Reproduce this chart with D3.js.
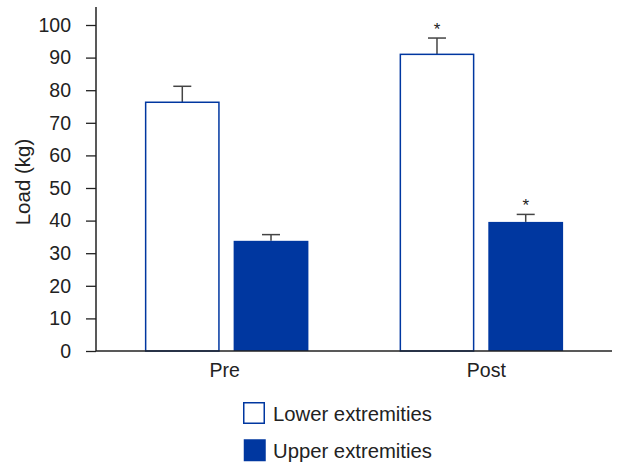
<!DOCTYPE html>
<html><head><meta charset="utf-8">
<script src="https://cdn.jsdelivr.net/npm/d3@7"></script>
<style>body{margin:0;background:#fff;} text{font-family:"Liberation Sans",Arial,sans-serif;fill:#222;}</style>
</head><body><svg id="c" width="617" height="463"></svg>
<script>
const categories = ["Pre", "Post"];
const seriesNames = ["Lower extremities", "Upper extremities"];
const lowerValues = [76.3, 91.0];
const lowerErrors = [4.9, 5.0];
const upperValues = [33.8, 39.6];
const upperErrors = [1.9, 2.3];
const lowerStars = [false, true];
const upperStars = [false, true];
const yTicks = [0,10,20,30,40,50,60,70,80,90,100];

const blue = "#0037a0";
const svg = d3.select("#c");
const y = d3.scaleLinear().domain([0,100]).range([351,25]);
const x0 = d3.scaleBand().domain(categories).range([96,612]).paddingInner(0.358).paddingOuter(0.192);
const x1 = d3.scaleBand().domain(seriesNames).range([0, x0.bandwidth()]).paddingInner(0.157);

const data = categories.map((c,i)=>({cat:c, vals:[
  {s:seriesNames[0], v:lowerValues[i], e:lowerErrors[i], star:lowerStars[i]},
  {s:seriesNames[1], v:upperValues[i], e:upperErrors[i], star:upperStars[i]}]}));

const g = svg.selectAll("g.grp").data(data).enter().append("g")
  .attr("transform", d=>`translate(${x0(d.cat)},0)`);
const bars = g.selectAll("g.b").data(d=>d.vals).enter().append("g");
// error bars
bars.append("line").attr("x1",d=>x1(d.s)+x1.bandwidth()/2).attr("x2",d=>x1(d.s)+x1.bandwidth()/2)
  .attr("y1",d=>y(d.v)).attr("y2",d=>y(d.v+d.e)).attr("stroke","#444").attr("stroke-width",1.5);
bars.append("line").attr("x1",d=>x1(d.s)+x1.bandwidth()/2-9).attr("x2",d=>x1(d.s)+x1.bandwidth()/2+9)
  .attr("y1",d=>y(d.v+d.e)).attr("y2",d=>y(d.v+d.e)).attr("stroke","#444").attr("stroke-width",1.5);
bars.append("rect").attr("x",(d,i)=>x1(d.s)+(i===0?0.75:0)).attr("y",d=>y(d.v))
  .attr("width",(d,i)=>x1.bandwidth()-(i===0?1.5:0)).attr("height",d=>y(0)-y(d.v))
  .attr("fill",(d,i)=>i===0?"#fff":blue).attr("stroke",(d,i)=>i===0?blue:"none").attr("stroke-width",1.5);
bars.filter(d=>d.star).append("text").attr("x",d=>x1(d.s)+x1.bandwidth()/2).attr("y",d=>y(d.v+d.e)-3)
  .attr("text-anchor","middle").attr("font-size",17).text("*");

// y axis
const yAxis = d3.axisLeft(y).tickValues(yTicks).tickSize(10).tickPadding(15);
const ya = svg.append("g").attr("transform","translate(96,0)").call(yAxis);
ya.select(".domain").remove();
ya.selectAll(".tick line").attr("stroke","#222").attr("stroke-width",1.3);
ya.selectAll(".tick text").attr("font-size",19.5).attr("fill","#222");
svg.append("line").attr("x1",96).attr("x2",96).attr("y1",7).attr("y2",y(0)).attr("stroke","#222").attr("stroke-width",1.5);
// x axis
const xAxis = d3.axisBottom(x0).tickSize(0).tickPadding(12);
const xa = svg.append("g").attr("transform",`translate(0,${y(0)})`).call(xAxis);
xa.select(".domain").remove();
xa.selectAll(".tick text").attr("font-size",19.5).attr("fill","#222");
xa.selectAll(".tick text").attr("dx",(d,i)=>i===1?"5":"-2");
svg.append("line").attr("x1",96).attr("x2",612).attr("y1",y(0)).attr("y2",y(0)).attr("stroke","#222").attr("stroke-width",1.5);

svg.append("text").attr("transform","translate(30,182) rotate(-90)").attr("text-anchor","middle")
  .attr("font-size",20.5).text("Load (kg)");

// legend
const leg = svg.append("g");
seriesNames.forEach((s,i)=>{
  const yy = 402 + i*36.5;
  leg.append("rect").attr("x",243.75).attr("y",yy+0.75).attr("width",i===0?20.5:22).attr("height",i===0?20.5:22)
    .attr("fill",i===0?"#fff":blue).attr("stroke",i===0?blue:"none").attr("stroke-width",1.5);
  leg.append("text").attr("x",273).attr("y",yy+19).attr("font-size",20.3).text(s);
});
</script></body></html>
